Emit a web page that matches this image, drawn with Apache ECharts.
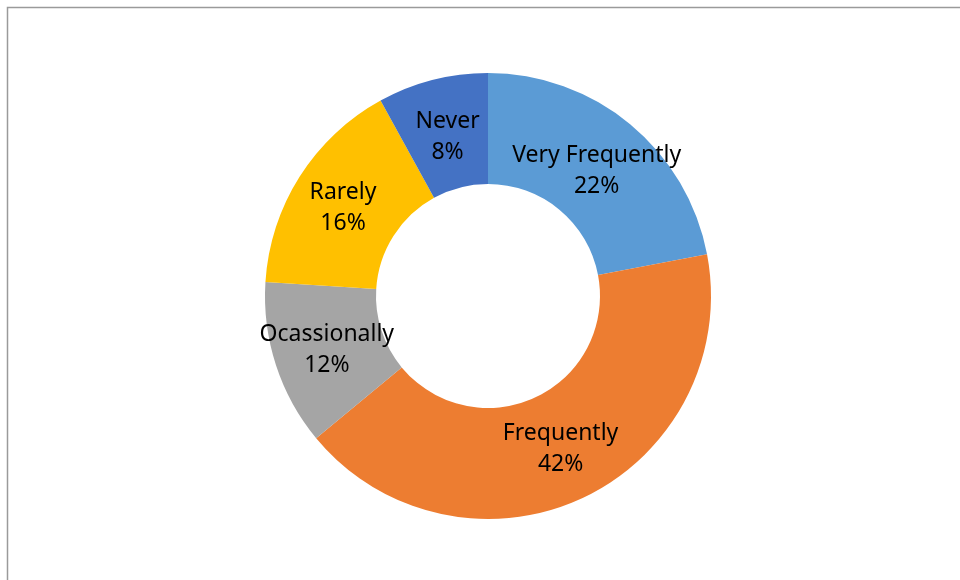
<!DOCTYPE html>
<html><head><meta charset="utf-8">
<script src="https://cdn.jsdelivr.net/npm/echarts@6/dist/echarts.min.js"></script>
<style>html,body{margin:0;padding:0;background:#fff}#c{width:960px;height:580px}</style>
</head><body><div id="c"></div>
<script>
const categories = ["Very Frequently", "Frequently", "Ocassionally", "Rarely", "Never"];
const values = [22, 42, 12, 16, 8];
const colors = ["#5B9BD5", "#ED7D31", "#A5A5A5", "#FFC000", "#4472C4"];
const labelOffsets = [[0, 6], [0, -1], [1, 1], [-1, 3], [2, 6]];

const chart = echarts.init(document.getElementById('c'), null, {renderer: 'canvas'});
chart.setOption({
  animation: false,
  backgroundColor: '#fff',
  graphic: [{
    type: 'rect', shape: {x: 7.5, y: 7.5, width: 1000, height: 1000},
    style: {fill: 'none', stroke: '#9a9a9a', lineWidth: 1.5}, silent: true
  }],
  series: [{
    type: 'pie',
    center: [488, 296],
    radius: [112, 223],
    startAngle: 90,
    clockwise: true,
    avoidLabelOverlap: false,
    data: categories.map((c, i) => ({
      name: c, value: values[i], itemStyle: {color: colors[i]},
      label: {offset: labelOffsets[i]}
    })),
    itemStyle: {borderWidth: 0},
    label: {
      show: true, position: 'inside',
      formatter: p => p.name + '\n' + p.value + '%',
      color: '#000', fontSize: 23, lineHeight: 31,
      fontFamily: 'Noto Sans'
    },
    labelLine: {show: false}
  }]
});
</script></body></html>
